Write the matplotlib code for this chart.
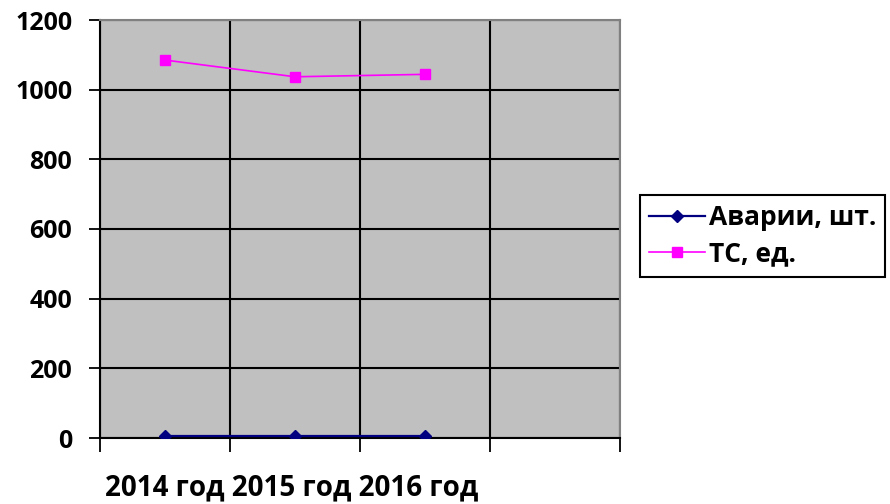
import matplotlib.pyplot as plt

plt.rcParams['font.family'] = ['Open Sans', 'DejaVu Sans']

years = ['2014 год', '2015 год', '2016 год']
accidents = [5, 5, 5]
vehicles = [1085, 1037, 1044]

fig = plt.figure(figsize=(8.9, 5.04), dpi=100)
ax = fig.add_axes([100 / 890, 66 / 504, 520 / 890, 418 / 504])
ax.set_facecolor('#C0C0C0')

x = [i + 0.5 for i in range(len(years))]
ax.plot(x, accidents, color='#000080', marker='D', markersize=6, lw=1.6,
        label='Аварии, шт.', zorder=3)
ax.plot(x, vehicles, color='#FF00FF', marker='s', markersize=7, lw=1.2,
        label='ТС, ед.', zorder=3)

ax.set_xlim(0, 4)
ax.set_ylim(0, 1200)
ax.set_yticks(range(0, 1201, 200))
ax.set_xticks(range(0, 5))
ax.set_xticklabels([])
ax.grid(True, color='black', lw=1.5)
ax.set_axisbelow(True)

ax.tick_params(axis='y', direction='out', length=8, width=1.3, labelsize=18, pad=12)
ax.tick_params(axis='x', direction='out', length=10, width=1.3)
for lab in ax.get_yticklabels():
    lab.set_fontweight('bold')

ax.spines['left'].set_color('black')
ax.spines['left'].set_linewidth(1.5)
ax.spines['bottom'].set_color('black')
ax.spines['bottom'].set_linewidth(1.5)
for s in ['top', 'right']:
    ax.spines[s].set_color('#808080')
    ax.spines[s].set_linewidth(1.5)

# category labels end up in one line under the axis
ax.text(0.01, -0.085, ' '.join(years), transform=ax.transAxes, ha='left', va='top',
        fontsize=20, fontweight='bold')

leg = fig.legend(loc='upper left', bbox_to_anchor=(640 / 890, 309 / 504),
                 prop={'weight': 'bold', 'size': 19},
                 handlelength=2.1, fancybox=False, edgecolor='black',
                 framealpha=1, borderpad=0.35, labelspacing=0.35, handletextpad=0.15,
                 borderaxespad=0)
leg.get_frame().set_linewidth(1.5)

fig.savefig('out.png', dpi=100)
